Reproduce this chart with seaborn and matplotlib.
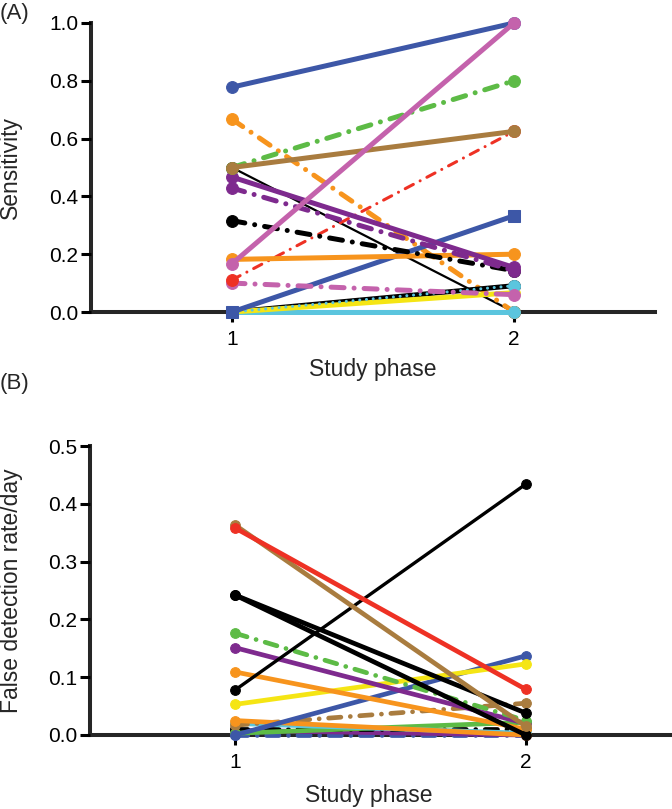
import matplotlib
matplotlib.use("Agg")
import matplotlib.pyplot as plt
import seaborn as sns

# Fase del estudio
phase = [1, 2]

# Colores usados en la figura
BLUE = "#3D57A7"
PINK = "#C462AC"
GREEN = "#5DBB46"
ORANGE = "#F7941D"
BROWN = "#A97C3F"
RED = "#EE3124"
PURPLE = "#7E2A8E"
YELLOW = "#F5E514"
CYAN = "#5BC5DE"
BLACK = "#000000"

# (A) Sensibilidad por sujeto: fase 1 -> fase 2
sens_p1 = [0.5, 0.667, 0.0, 0.0, 0.0, 0.0, 0.0, 0.10, 0.111, 0.182, 0.316, 0.429, 0.467, 0.5, 0.5, 0.778, 0.167]
sens_p2 = [0.0, 0.0, 0.091, 0.0, 0.067, 0.091, 0.333, 0.06, 0.625, 0.20, 0.143, 0.143, 0.154, 0.8, 0.625, 1.0, 1.0]
sens_color = [BLACK, ORANGE, BLACK, CYAN, YELLOW, CYAN, BLUE, PINK, RED, ORANGE, BLACK, PURPLE, PURPLE, GREEN, BROWN, BLUE, PINK]
sens_style = ["thin", "dashdot", "solid", "solid", "solid", "dotted", "solid", "dashdot", "dashdot_thin", "solid",
              "dashdot", "dashdot", "solid", "dashdot", "solid", "solid", "solid"]
sens_marker = ["o"] * 6 + ["s"] + ["o"] * 10

# (B) Tasa de falsas detecciones por día
fdr_p1 = [0.0, 0.008, 0.01, 0.003, 0.02, 0.017, 0.025, 0.0, 0.053, 0.109, 0.151, 0.176, 0.078,
          0.242, 0.242, 0.363, 0.358]
fdr_p2 = [0.0, 0.0, 0.01, 0.022, 0.003, 0.055, 0.0, 0.137, 0.123, 0.01, 0.02, 0.025, 0.434,
          0.038, 0.0, 0.015, 0.079]
fdr_color = [BLUE, PURPLE, BLACK, GREEN, CYAN, BROWN, ORANGE, BLUE, YELLOW, ORANGE, PURPLE, GREEN, BLACK,
             BLACK, BLACK, BROWN, RED]
fdr_style = ["dashdot", "solid", "dashdot", "solid", "solid", "dashdot", "solid", "solid", "solid", "solid",
             "solid", "dashdot", "medium", "solid", "solid", "solid", "solid"]

sens_ticks = [0.0, 0.2, 0.4, 0.6, 0.8, 1.0]
fdr_ticks = [0.0, 0.1, 0.2, 0.3, 0.4, 0.5]

sns.set_style("ticks")
plt.rcParams["font.family"] = ["Liberation Sans", "DejaVu Sans"]


def line_kws(style, thick):
    if style == "dashdot":
        return dict(lw=thick, linestyle=(0, (2.6, 2.0, 0.01, 2.0)), dash_capstyle="round")
    if style == "dashdot_thin":
        return dict(lw=2.2, linestyle=(0, (3.0, 2.5, 0.01, 2.5)), dash_capstyle="round")
    if style == "dotted":
        return dict(lw=2.2, linestyle=(0, (0.01, 2.2)), dash_capstyle="round")
    if style == "thin":
        return dict(lw=1.6, linestyle="-")
    if style == "medium":
        return dict(lw=2.4, linestyle="-")
    return dict(lw=thick, linestyle="-")


def draw_panel(ax, p1, p2, colors, styles, markers, thick, msize):
    for i in range(len(p1)):
        kws = line_kws(styles[i], thick)
        sns.lineplot(x=phase, y=[p1[i], p2[i]], ax=ax, color=colors[i], marker=markers[i],
                     markersize=msize, markeredgecolor=colors[i], clip_on=False, **kws)
    ax.set_xlim(0.5, 2.5)
    ax.set_xticks([1, 2])
    ax.set_xticklabels(["1", "2"])
    sns.despine(ax=ax)
    for s in ["left", "bottom"]:
        ax.spines[s].set_linewidth(2.9)
        ax.spines[s].set_zorder(0)
    ax.tick_params(axis="both", width=2.2, length=7, labelsize=15, color="black", labelcolor="black")
    ax.tick_params(axis="y", pad=2)
    ax.tick_params(axis="x", pad=6)
    ax.set_xlabel("Study phase", fontsize=16.5)


fig = plt.figure(figsize=(6.72, 8.09), dpi=100)

ax_a = fig.add_axes([91 / 672, 1 - 312 / 809, (655 - 91) / 672, 289 / 809])
draw_panel(ax_a, sens_p1, sens_p2, sens_color, sens_style, sens_marker, 3.6, 8.5)
ax_a.set_ylim(0, 1.0)
ax_a.set_yticks(sens_ticks)
ax_a.set_yticklabels([f"{t:.1f}" for t in sens_ticks])
ax_a.set_ylabel("Sensitivity", fontsize=16.5)
ax_a.yaxis.set_label_coords(-0.122, 0.5)
ax_a.xaxis.set_label_coords(0.5, -0.16)

ax_b = fig.add_axes([90 / 672, 1 - 735 / 809, (671 - 90) / 672, 289 / 809])
draw_panel(ax_b, fdr_p1, fdr_p2, fdr_color, fdr_style, ["o"] * len(fdr_p1), 3.4, 7)
ax_b.set_ylim(0, 0.5)
ax_b.set_yticks(fdr_ticks)
ax_b.set_yticklabels([f"{t:.1f}" for t in fdr_ticks])
ax_b.set_ylabel("False detection rate/day", fontsize=16.5)
ax_b.yaxis.set_label_coords(-0.115, 0.5)
ax_b.xaxis.set_label_coords(0.48, -0.17)

fig.text(0.0, 1 - 14 / 809, "(A)", fontsize=16, ha="left", va="center")
fig.text(0.0, 1 - 383 / 809, "(B)", fontsize=16, ha="left", va="center")

fig.savefig("out.png", dpi=100)
